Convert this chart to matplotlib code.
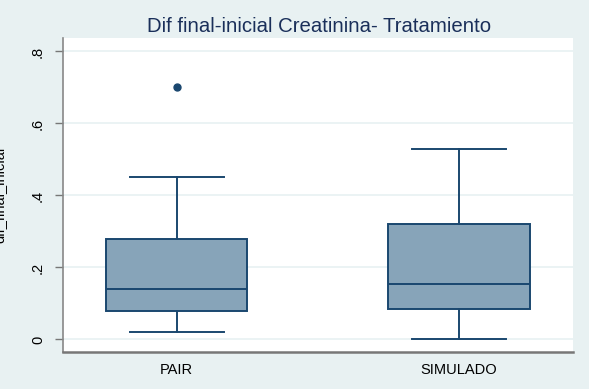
import numpy as np
import matplotlib
matplotlib.use('Agg')
import matplotlib.pyplot as plt

# valores
grupos = ['PAIR', 'SIMULADO']
q1 = [0.08, 0.085]
mediana = [0.14, 0.155]
q3 = [0.28, 0.32]
bigote_inf = [0.02, 0.0]
bigote_sup = [0.45, 0.53]
atipicos = [[0.70], []]

plt.rcParams['font.family'] = ['Liberation Sans', 'DejaVu Sans']

azul = '#1a476f'
relleno = '#87a4b9'
fondo = '#e8f1f2'

fig = plt.figure(figsize=(5.89, 3.89), dpi=100)
fig.patch.set_facecolor(fondo)
ax = fig.add_axes([0.107, 0.095, 0.866, 0.807])
ax.set_facecolor('white')

stats = []
for i in range(len(grupos)):
    stats.append({'med': mediana[i], 'q1': q1[i], 'q3': q3[i],
                  'whislo': bigote_inf[i], 'whishi': bigote_sup[i],
                  'fliers': atipicos[i], 'label': grupos[i]})

ax.bxp(stats, positions=[1, 2], widths=0.5, patch_artist=True,
       boxprops=dict(facecolor=relleno, edgecolor=azul, linewidth=1.4),
       medianprops=dict(color=azul, linewidth=1.4),
       whiskerprops=dict(color=azul, linewidth=1.4),
       capprops=dict(color=azul, linewidth=1.4),
       capwidths=0.333,
       flierprops=dict(marker='o', markerfacecolor=azul, markeredgecolor=azul, markersize=5),
       zorder=3)

ax.set_xlim(0.597, 2.404)
ax.set_ylim(-0.035, 0.837)
ax.set_yticks([0, 0.2, 0.4, 0.6, 0.8])
ax.set_yticklabels(['0', '.2', '.4', '.6', '.8'], rotation=90, va='center', fontsize=10.5)
ax.tick_params(axis='y', length=6, width=1, color='#777777', pad=7)
ax.tick_params(axis='x', length=0, labelsize=10.5, pad=8)
ax.grid(axis='y', color='#e8f1f2', linewidth=1.2, zorder=0)
ax.set_axisbelow(True)

for s in ['top', 'right']:
    ax.spines[s].set_visible(False)
ax.spines['left'].set_color('#888888')
ax.spines['left'].set_linewidth(1.2)
ax.spines['bottom'].set_color('#777777')
ax.spines['bottom'].set_linewidth(1.8)

fig.text(0.541, 0.918, 'Dif final-inicial Creatinina- Tratamiento', ha='center',
         va='baseline', fontsize=14.7, color='#1a2f5a')
fig.text(6 / 589, 0.5, 'dif_final_inicial', rotation=90, ha='right', va='center', fontsize=10.5)

plt.savefig('out.png', dpi=100, facecolor=fig.get_facecolor())
